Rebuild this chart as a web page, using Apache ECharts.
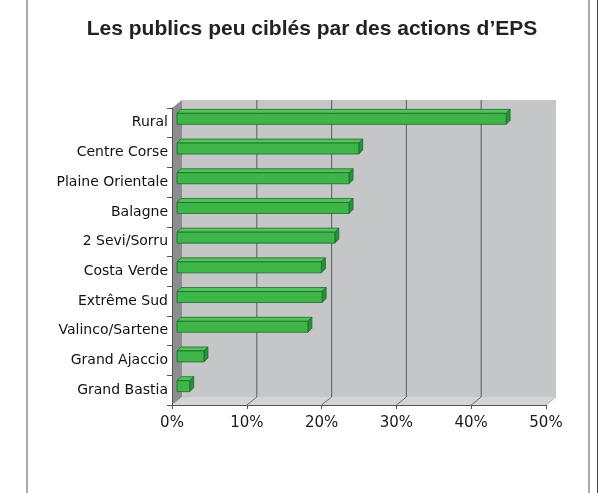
<!DOCTYPE html>
<html>
<head>
<meta charset="utf-8">
<script src="https://cdn.jsdelivr.net/npm/echarts@6/dist/echarts.min.js"></script>
<style>
html,body{margin:0;padding:0;background:#fff;}
#chart{width:605px;height:493px;}
</style>
</head>
<body>
<div id="chart"></div>
<script>
const title = "Les publics peu ciblés par des actions d\u2019EPS";
const categories = ["Rural", "Centre Corse", "Plaine Orientale", "Balagne", "2 Sevi/Sorru", "Costa Verde", "Extrême Sud", "Valinco/Sartene", "Grand Ajaccio", "Grand Bastia"];
const values = [44, 24.3, 23, 23, 21.1, 19.3, 19.4, 17.5, 3.6, 1.7];
const xTicks = [0, 10, 20, 30, 40, 50];

const DX = 10, DY = -8;      // depth of the 3D box
const MX = 5, MY = -4;       // bar front plane offset
const BD = 4;                // bar depth

const chart = echarts.init(document.getElementById('chart'), null, {renderer: 'canvas'});

function frameItem(params, api) {
  const band = api.size([0, 1])[1];
  const x0 = api.coord([0, 0])[0];
  const x50 = api.coord([50, 0])[0];
  const topY = api.coord([0, 0])[1] - band / 2;
  const botY = api.coord([0, categories.length - 1])[1] + band / 2;
  const children = [];
  children.push({type: 'rect', shape: {x: x0 + DX, y: topY + DY, width: x50 - x0, height: botY - topY}, style: {fill: '#c5c6c8'}});
  children.push({type: 'polygon', shape: {points: [[x0, botY], [x0 + DX, botY + DY], [x50 + DX, botY + DY], [x50, botY]]}, style: {fill: '#d3d4d6'}});
  children.push({type: 'polygon', shape: {points: [[x0, topY], [x0 + DX, topY + DY], [x0 + DX, botY + DY], [x0, botY]]}, style: {fill: '#8c8d90'}});
  xTicks.forEach(function (t) {
    const x = api.coord([t, 0])[0];
    if (t > 0 && t < 50) {
      children.push({type: 'line', shape: {x1: x + DX, y1: topY + DY, x2: x + DX, y2: botY + DY}, style: {stroke: '#6b6c6f', lineWidth: 1.2}});
    }
    if (t > 0) {
      children.push({type: 'line', shape: {x1: x, y1: botY, x2: x + DX, y2: botY + DY}, style: {stroke: t < 50 ? '#6b6c6f' : '#b8b9bb', lineWidth: 1}});
    }
  });
  return {type: 'group', children: children};
}

function barItem(params, api) {
  const idx = api.value(1);
  const start = api.coord([0, idx]);
  const end = api.coord([api.value(0), idx]);
  const h = api.size([0, 1])[1] * 0.37;
  const x = start[0] + MX;
  const y = start[1] + MY - h / 2;
  const w = end[0] - start[0];
  const stroke = '#1f6b2b';
  return {
    type: 'group',
    children: [
      {type: 'polygon', shape: {points: [[x, y], [x + BD, y - BD], [x + w + BD, y - BD], [x + w, y]]}, style: {fill: '#52c35a', stroke: stroke, lineWidth: 0.8}},
      {type: 'polygon', shape: {points: [[x + w, y], [x + w + BD, y - BD], [x + w + BD, y + h - BD], [x + w, y + h]]}, style: {fill: '#25913a', stroke: stroke, lineWidth: 0.8}},
      {type: 'rect', shape: {x: x, y: y, width: w, height: h}, style: {fill: '#3db549', stroke: stroke, lineWidth: 0.8}}
    ]
  };
}

chart.setOption({
  backgroundColor: '#ffffff',
  animation: false,
  title: {
    text: title,
    left: 307, top: 14, textAlign: 'center',
    textStyle: {fontFamily: 'Liberation Sans', fontWeight: 'bold', fontSize: 21, color: '#222'}
  },
  graphic: [
    {type: 'line', shape: {x1: 27, y1: 0, x2: 27, y2: 493}, style: {stroke: '#aaaaaa', lineWidth: 2}},
    {type: 'line', shape: {x1: 589, y1: 0, x2: 589, y2: 493}, style: {stroke: '#aaaaaa', lineWidth: 2}},
    {type: 'line', shape: {x1: 597.5, y1: 0, x2: 597.5, y2: 493}, style: {stroke: '#444444', lineWidth: 1}}
  ],
  grid: {left: 172, right: 59, top: 108, bottom: 88},
  xAxis: {
    type: 'value', min: 0, max: 50, interval: 10, z: 5,
    axisLine: {show: true, lineStyle: {color: '#555', width: 1}},
    axisTick: {show: true, length: 4, lineStyle: {color: '#555'}},
    splitLine: {show: false},
    axisLabel: {formatter: '{value}%', fontFamily: 'DejaVu Sans', fontSize: 15, color: '#1a1a1a', margin: 11}
  },
  yAxis: {
    type: 'category', data: categories, inverse: true, z: 5,
    axisLine: {show: true, lineStyle: {color: '#555', width: 1}},
    axisTick: {show: true, length: 5, lineStyle: {color: '#555'}},
    splitLine: {show: false},
    axisLabel: {fontFamily: 'DejaVu Sans', fontSize: 14, color: '#111', margin: 4}
  },
  series: [
    {type: 'custom', renderItem: frameItem, data: [[0, 0]], z: 1, silent: true},
    {type: 'custom', renderItem: barItem, data: values.map(function (v, i) { return [v, i]; }), z: 3,
     encode: {x: 0, y: 1}}
  ]
});
</script>
</body>
</html>
